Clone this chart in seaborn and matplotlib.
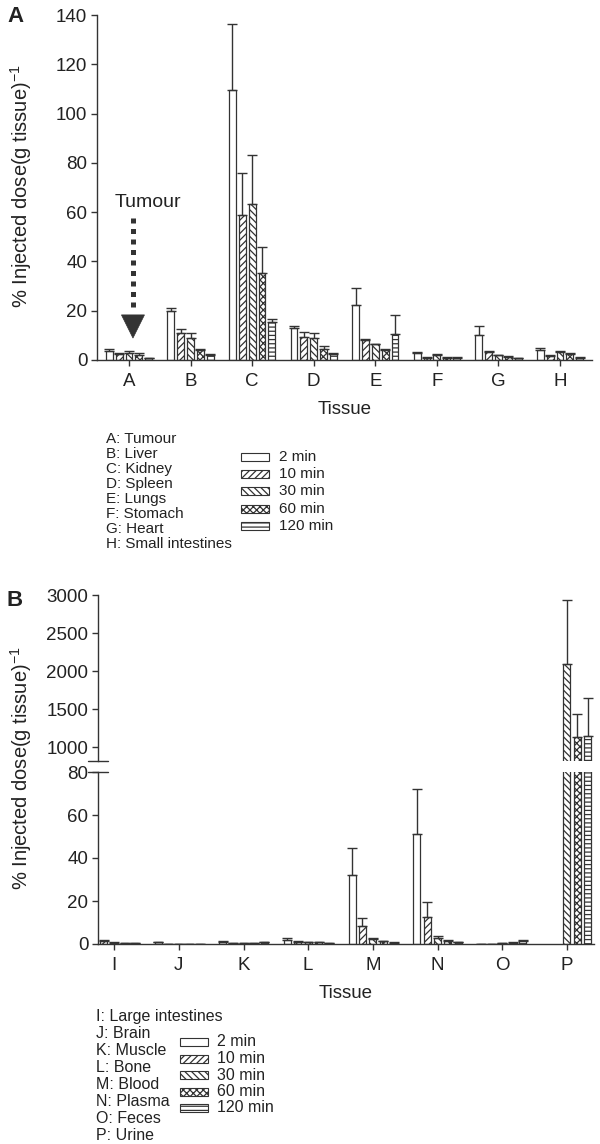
import numpy as np
import pandas as pd
import matplotlib
matplotlib.use("Agg")
import matplotlib.pyplot as plt
import seaborn as sns
from matplotlib.patches import Rectangle, Polygon
from matplotlib.lines import Line2D
from matplotlib.container import BarContainer

# ---------------- data ----------------
times = ["2 min", "10 min", "30 min", "60 min", "120 min"]

tissues_a = ["A", "B", "C", "D", "E", "F", "G", "H"]
names_a = ["A: Tumour", "B: Liver", "C: Kidney", "D: Spleen", "E: Lungs",
           "F: Stomach", "G: Heart", "H: Small intestines"]
a_mean_2 = [3.5, 20.0, 109.5, 13.0, 22.3, 3.0, 10.1, 4.0]
a_sd_2 = [0.8, 1.3, 27.0, 1.0, 6.9, 0.2, 3.9, 0.7]
a_mean_10 = [2.4, 11.0, 58.8, 9.2, 8.1, 1.0, 3.4, 1.8]
a_sd_10 = [0.5, 1.7, 17.2, 2.3, 0.4, 0.2, 0.3, 0.4]
a_mean_30 = [3.0, 8.8, 63.3, 9.0, 6.4, 2.2, 2.0, 3.4]
a_sd_30 = [0.5, 2.0, 19.9, 2.0, 0.2, 0.3, 0.2, 0.3]
a_mean_60 = [2.2, 3.9, 35.4, 4.3, 4.0, 1.0, 1.3, 2.5]
a_sd_60 = [0.6, 0.4, 10.6, 1.2, 0.3, 0.2, 0.2, 0.3]
a_mean_120 = [0.7, 2.2, 15.5, 2.5, 10.4, 1.0, 0.8, 1.0]
a_sd_120 = [0.3, 0.3, 1.1, 0.5, 7.8, 0.2, 0.2, 0.2]

tissues_b = ["I", "J", "K", "L", "M", "N", "O", "P"]
names_b = ["I: Large intestines", "J: Brain", "K: Muscle", "L: Bone",
           "M: Blood", "N: Plasma", "O: Feces", "P: Urine"]
nan = np.nan
b_mean_2 = [0.8, 0.7, 1.0, 2.0, 32.0, 51.0, 0.2, nan]
b_sd_2 = [0.4, 0.3, 0.5, 0.8, 12.6, 21.0, 0.0, nan]
b_mean_10 = [1.5, 0.2, 0.3, 1.0, 8.3, 12.7, 0.2, nan]
b_sd_10 = [0.3, 0.0, 0.1, 0.2, 3.8, 7.0, 0.0, nan]
b_mean_30 = [0.5, 0.2, 0.4, 0.8, 2.2, 3.0, 0.5, 2100.0]
b_sd_30 = [0.2, 0.0, 0.1, 0.2, 0.8, 0.7, 0.1, 834.0]
b_mean_60 = [0.3, 0.2, 0.4, 0.8, 1.2, 1.3, 0.6, 1135.0]
b_sd_60 = [0.1, 0.0, 0.1, 0.1, 0.4, 0.5, 0.1, 300.0]
b_mean_120 = [0.3, 0.2, 0.7, 0.3, 0.5, 0.8, 1.6, 1148.0]
b_sd_120 = [0.1, 0.0, 0.2, 0.1, 0.2, 0.2, 0.4, 500.0]

# ---------------- style ----------------
sns.set_style("ticks")
plt.rcParams["font.family"] = ["Liberation Sans", "DejaVu Sans"]
plt.rcParams["mathtext.fontset"] = "custom"
plt.rcParams["mathtext.rm"] = "Liberation Sans"
plt.rcParams["mathtext.default"] = "regular"
plt.rcParams["hatch.linewidth"] = 0.9

INK = "#333333"
TXT = "#222222"
HATCH = {"2 min": "", "10 min": "/////", "30 min": "\\" * 5,
         "60 min": "xxxxx", "120 min": "----"}

W, H = 600, 1144
fig = plt.figure(figsize=(W / 100, H / 100), dpi=100)


def fx(px):
    return px / W


def fy(py):
    return 1 - py / H


def axes_px(l, t, r, b):
    return fig.add_axes([fx(l), fy(b), (r - l) / W, (b - t) / H])


def long_df(cats, means, sds):
    rows = []
    for t, m, s in zip(times, means, sds):
        for c, mv, sv in zip(cats, m, s):
            rows.append({"tissue": c, "time": t, "value": mv, "sd": sv})
    return pd.DataFrame(rows)


df_a = long_df(tissues_a, [a_mean_2, a_mean_10, a_mean_30, a_mean_60, a_mean_120],
               [a_sd_2, a_sd_10, a_sd_30, a_sd_60, a_sd_120])
df_b = long_df(tissues_b, [b_mean_2, b_mean_10, b_mean_30, b_mean_60, b_mean_120],
               [b_sd_2, b_sd_10, b_sd_30, b_sd_60, b_sd_120])


def draw(ax, df, cats):
    sns.barplot(data=df, x="tissue", y="value", hue="time", order=cats,
                hue_order=times, palette=["white"] * 5, edgecolor=INK,
                linewidth=0.9, width=0.8, gap=0.3, errorbar=None,
                legend=False, ax=ax)
    slot = 0.8 / len(times)
    bars = [b for c in list(ax.containers) if isinstance(c, BarContainer)
            for b in c if b is not None]
    for bar in bars:
        h = bar.get_height()
        if not np.isfinite(h):
            continue
        xc = bar.get_x() + bar.get_width() / 2
        ci = int(round(xc))
        li = int(round((xc - ci + 0.4 - slot / 2) / slot))
        bar.set_hatch(HATCH[times[li]])
        row = df[(df.tissue == cats[ci]) & (df.time == times[li])]
        sd = float(row.sd.iloc[0])
        ax.errorbar([xc], [h], yerr=[[0], [sd]], fmt="none", ecolor=INK,
                    elinewidth=1.0, capsize=3.6, capthick=1.0, zorder=1)


def style(ax):
    ax.tick_params(direction="out", length=4, width=1.0, color=INK,
                   labelsize=13.5, labelcolor=TXT, pad=3)
    ax.tick_params(axis="x", pad=5)
    for s in ["top", "right"]:
        ax.spines[s].set_visible(False)
    for s in ["left", "bottom"]:
        ax.spines[s].set_color(INK)
        ax.spines[s].set_linewidth(1.0)
    ax.set_ylabel("")


# ---------------- panel A ----------------
axA = axes_px(97, 15, 592, 360)
draw(axA, df_a, tissues_a)
style(axA)
axA.set_xlim(-0.52, 7.52)
axA.set_ylim(0, 140)
axA.set_yticks([0, 20, 40, 60, 80, 100, 120, 140])
axA.set_xlabel("Tissue", fontsize=13.5, color=TXT, labelpad=8)

# tumour annotation
ax_x = 0.064
axA.plot([ax_x, ax_x], [57.6, 20.7], color=INK, lw=3.6, dashes=(1.0, 1.1),
         solid_capstyle="butt", dash_capstyle="butt")
axA.add_patch(Polygon([(ax_x - 0.187, 18.3), (ax_x + 0.187, 18.3), (ax_x, 8.9)],
                      closed=True, facecolor=INK, edgecolor=INK, lw=0.5))
axA.text(0.30, 64.1, "Tumour", ha="center", va="center", fontsize=14, color=TXT)

# ---------------- panel B ----------------
axBu = axes_px(98, 595, 594, 761)
axBl = axes_px(98, 772, 594, 944)
for ax in (axBu, axBl):
    draw(ax, df_b, tissues_b)
    style(ax)
    ax.set_xlim(-0.25, 7.42)

axBu.set_ylim(820, 3000)
axBu.set_yticks([1000, 1500, 2000, 2500, 3000])
axBu.spines["bottom"].set_visible(False)
axBu.tick_params(axis="x", bottom=False, labelbottom=False)
axBu.set_xlabel("")

axBl.set_ylim(0, 80)
axBl.set_yticks([0, 20, 40, 60, 80])
axBl.set_xlabel("Tissue", fontsize=13.5, color=TXT, labelpad=8)

# axis break marks
for yy in (761, 772):
    fig.add_artist(Line2D([fx(88), fx(108)], [fy(yy), fy(yy)], color=INK,
                          lw=1.0, transform=fig.transFigure))

# ---------------- labels ----------------
ylab = "% Injected dose(g tissue)$^{-1}$"
fig.text(fx(21), fy(186), ylab, rotation=90, ha="center", va="center",
         fontsize=14.5, color=TXT)
fig.text(fx(21), fy(768), ylab, rotation=90, ha="center", va="center",
         fontsize=14.5, color=TXT)
fig.text(fx(7), fy(17), "A", fontsize=16, fontweight="bold", color=TXT,
         ha="left", va="center")
fig.text(fx(7), fy(600), "B", fontsize=16, fontweight="bold", color=TXT,
         ha="left", va="center")


# ---------------- legends ----------------
def cat_list(names, x, y0, step, fs):
    for i, n in enumerate(names):
        fig.text(fx(x), fy(y0 + i * step), n, ha="left", va="center",
                 fontsize=fs, color=TXT)


def time_legend(xp, xt, y0, step, fs):
    for i, t in enumerate(times):
        yc = y0 + i * step
        fig.add_artist(Rectangle((fx(xp), fy(yc + 4)), 28 / W, 8 / H,
                                 transform=fig.transFigure, facecolor="white",
                                 edgecolor=INK, lw=0.8, hatch=HATCH[t]))
        fig.text(fx(xt), fy(yc), t, ha="left", va="center", fontsize=fs,
                 color=TXT)


cat_list(names_a, 106, 439, 15.0, 11)
time_legend(241, 279, 457, 17.2, 11)
cat_list(names_b, 96, 1017, 16.9, 11.5)
time_legend(180, 217, 1042, 16.5, 11.5)

fig.savefig("out.png", dpi=100)
